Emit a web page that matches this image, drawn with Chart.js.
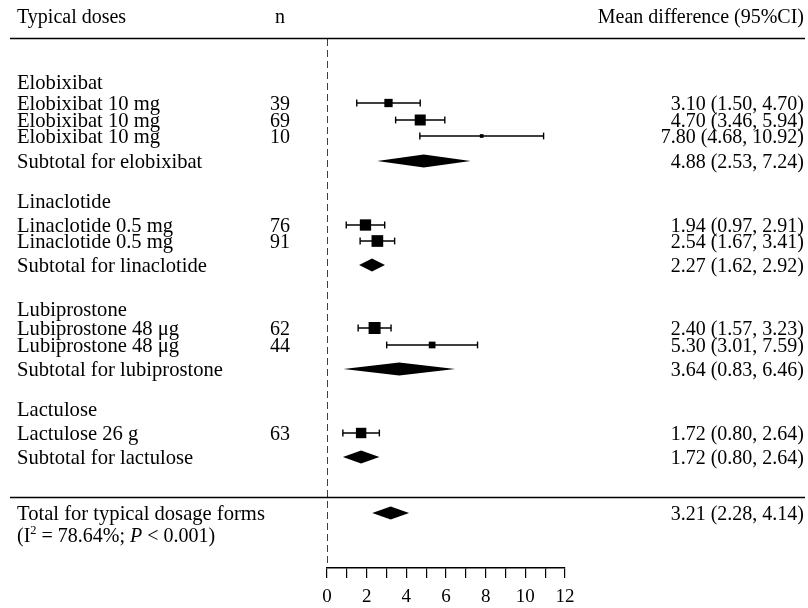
<!DOCTYPE html>
<html>
<head>
<meta charset="utf-8">
<script src="https://cdn.jsdelivr.net/npm/chart.js@4/dist/chart.umd.min.js"></script>
<style>
  html, body { margin: 0; padding: 0; background: #fff; }
  canvas { display: block; }
</style>
</head>
<body>
<canvas id="forest" width="808" height="608"></canvas>
<script>
// ── Data ─────────────────────────────────────────────────────────────────────
const groupNames = ["Elobixibat", "Linaclotide", "Lubiprostone", "Lactulose"];

const studyLabels = [
  "Elobixibat 10 mg", "Elobixibat 10 mg", "Elobixibat 10 mg",
  "Linaclotide 0.5 mg", "Linaclotide 0.5 mg",
  "Lubiprostone 48 μg", "Lubiprostone 48 μg",
  "Lactulose 26 g",
];
const studyN      = [39, 69, 10, 76, 91, 62, 44, 63];
const studyMean   = [3.10, 4.70, 7.80, 1.94, 2.54, 2.40, 5.30, 1.72];
const studyLow    = [1.50, 3.46, 4.68, 0.97, 1.67, 1.57, 3.01, 0.80];
const studyHigh   = [4.70, 5.94, 10.92, 2.91, 3.41, 3.23, 7.59, 2.64];
const studyWeight = [9.0, 15.8, 1.8, 16.7, 17.8, 18.8, 5.9, 14.2]; // % (square area)

const subtotalLabels = [
  "Subtotal for elobixibat", "Subtotal for linaclotide",
  "Subtotal for lubiprostone", "Subtotal for lactulose",
];
const subtotalMean = [4.88, 2.27, 3.64, 1.72];
const subtotalLow  = [2.53, 1.62, 0.83, 0.80];
const subtotalHigh = [7.24, 2.92, 6.46, 2.64];

const totalLabel = "Total for typical dosage forms";
const totalMean  = 3.21;
const totalLow   = 2.28;
const totalHigh  = 4.14;
const hetI2      = "78.64%";
const hetP       = "< 0.001";

const headerLabels = ["Typical doses", "n", "Mean difference (95%CI)"];
const xTickValues  = [0, 2, 4, 6, 8, 10, 12];

// ── Layout (vertical rows in canvas px, y scale is 1:1 with pixels) ─────────
const AXIS_Y     = 568;
const ROW_HEAD   = 16.5;
const ROW_GROUP  = [82, 201, 309, 409];
const ROW_STUDY  = [103, 120, 136, 225, 241, 328, 345, 433];
const ROW_SUB    = [161, 265, 369, 457];
const ROW_TOTAL  = 513;
const ROW_HET    = 535;
const RULES      = [38, 497];

const COL_LABEL  = 17;
const COL_N      = 280;
const COL_VALUE  = 804;
const FONT       = '"Liberation Serif", "Times New Roman", serif';
const FONT_SIZE  = 20;
const LABEL_SIZE = 20.6;
const CAP_HALF   = 6.6;
const DIAMOND_H  = 6.5;

const fmt = (m, lo, hi) => `${m.toFixed(2)} (${lo.toFixed(2)}, ${hi.toFixed(2)})`;

// ── Datasets ─────────────────────────────────────────────────────────────────
const datasets = [];

// línea de no efecto (punteada)
datasets.push({
  type: "line",
  data: [{ x: 0, y: RULES[0] + 1 }, { x: 0, y: AXIS_Y }],
  borderColor: "#000",
  borderWidth: 1.5,
  borderDash: [7, 4],
  pointRadius: 0,
});

// bigotes de IC
studyMean.forEach((m, i) => {
  datasets.push({
    type: "line",
    data: [{ x: studyLow[i], y: ROW_STUDY[i] }, { x: studyHigh[i], y: ROW_STUDY[i] }],
    borderColor: "#000",
    borderWidth: 1.4,
    pointRadius: 0,
  });
});

// remates de los bigotes
datasets.push({
  type: "scatter",
  data: studyMean.flatMap((m, i) => [
    { x: studyLow[i], y: ROW_STUDY[i] },
    { x: studyHigh[i], y: ROW_STUDY[i] },
  ]),
  pointStyle: "line",
  rotation: 90,
  pointRadius: 3.4,
  borderColor: "#000",
  borderWidth: 1.4,
});

// cuadrados (área ~ peso)
datasets.push({
  type: "scatter",
  data: studyMean.map((m, i) => ({ x: m, y: ROW_STUDY[i] })),
  pointStyle: "rect",
  pointRadius: studyWeight.map(w => (2.77 * Math.sqrt(w)) / Math.SQRT2),
  backgroundColor: "#000",
  borderWidth: 0,
});

// diamantes: subtotales + total
const diamonds = subtotalMean.map((m, i) => ({ m, lo: subtotalLow[i], hi: subtotalHigh[i], y: ROW_SUB[i] }));
diamonds.push({ m: totalMean, lo: totalLow, hi: totalHigh, y: ROW_TOTAL });
diamonds.forEach(d => {
  datasets.push({
    type: "line",
    data: [
      { x: d.lo, y: d.y }, { x: d.m, y: d.y - DIAMOND_H },
      { x: d.hi, y: d.y }, { x: d.m, y: d.y + DIAMOND_H },
      { x: d.lo, y: d.y },
    ],
    borderWidth: 0,
    borderColor: "#000",
    backgroundColor: "#000",
    fill: "shape",
    tension: 0,
    pointRadius: 0,
  });
});

// ── Texto y reglas ───────────────────────────────────────────────────────────
const forestText = {
  id: "forestText",
  afterDraw(chart) {
    const ctx = chart.ctx;
    const yS = chart.scales.y;
    const base = v => yS.getPixelForValue(v) + CAP_HALF;
    ctx.save();
    ctx.fillStyle = "#000";
    ctx.textBaseline = "alphabetic";

    const put = (txt, x, yv, align, size) => {
      ctx.font = `${size || FONT_SIZE}px ${FONT}`;
      ctx.textAlign = align;
      ctx.fillText(txt, x, base(yv));
    };

    put(headerLabels[0], COL_LABEL, ROW_HEAD, "left");
    put(headerLabels[1], COL_N, ROW_HEAD, "center");
    put(headerLabels[2], COL_VALUE, ROW_HEAD, "right");

    groupNames.forEach((g, i) => put(g, COL_LABEL, ROW_GROUP[i], "left", LABEL_SIZE));
    studyLabels.forEach((s, i) => {
      put(s, COL_LABEL, ROW_STUDY[i], "left", LABEL_SIZE);
      put(String(studyN[i]), COL_N, ROW_STUDY[i], "center");
      put(fmt(studyMean[i], studyLow[i], studyHigh[i]), COL_VALUE, ROW_STUDY[i], "right");
    });
    subtotalLabels.forEach((s, i) => {
      put(s, COL_LABEL, ROW_SUB[i], "left", LABEL_SIZE);
      put(fmt(subtotalMean[i], subtotalLow[i], subtotalHigh[i]), COL_VALUE, ROW_SUB[i], "right");
    });
    put(totalLabel, COL_LABEL, ROW_TOTAL, "left", LABEL_SIZE);
    put(fmt(totalMean, totalLow, totalHigh), COL_VALUE, ROW_TOTAL, "right");

    // (I² = 78.64%; P < 0.001)
    ctx.textAlign = "left";
    let x = COL_LABEL;
    const by = base(ROW_HET);
    const seg = (txt, font, dy) => { ctx.font = font; ctx.fillText(txt, x, by + (dy || 0)); x += ctx.measureText(txt).width; };
    seg("(I", `${FONT_SIZE}px ${FONT}`);
    seg("2", `${FONT_SIZE * 0.62}px ${FONT}`, -8);
    seg(` = ${hetI2}; `, `${FONT_SIZE}px ${FONT}`);
    seg("P", `italic ${FONT_SIZE}px ${FONT}`);
    seg(` ${hetP})`, `${FONT_SIZE}px ${FONT}`);

    // reglas horizontales
    ctx.strokeStyle = "#000";
    ctx.lineWidth = 1.6;
    RULES.forEach(r => {
      const py = Math.round(yS.getPixelForValue(r)) + 0.5;
      ctx.beginPath();
      ctx.moveTo(10, py);
      ctx.lineTo(805, py);
      ctx.stroke();
    });
    ctx.restore();
  },
};

// ── Chart ────────────────────────────────────────────────────────────────────
new Chart(document.getElementById("forest"), {
  type: "scatter",
  data: { datasets },
  options: {
    responsive: false,
    animation: false,
    events: [],
    layout: { autoPadding: false, padding: { left: 327, right: 243, top: 0, bottom: 0 } },
    plugins: { legend: { display: false }, tooltip: { enabled: false } },
    scales: {
      x: {
        type: "linear",
        min: 0,
        max: 12,
        afterFit: s => { s.height = 608 - AXIS_Y; },
        afterBuildTicks: s => {
          s.ticks = [];
          for (let v = 0; v <= 12; v++) s.ticks.push({ value: v });
        },
        ticks: {
          autoSkip: false,
          maxRotation: 0,
          padding: 8,
          color: "#000",
          font: { family: FONT, size: 19 },
          callback: v => (xTickValues.includes(v) ? String(v) : ""),
        },
        grid: { drawOnChartArea: false, drawTicks: true, tickLength: 10, color: "#000", lineWidth: 1.2 },
        border: { display: true, color: "#000", width: 1.5 },
      },
      y: { type: "linear", display: false, min: 0, max: AXIS_Y, reverse: true },
    },
  },
  plugins: [forestText],
});
</script>
</body>
</html>
